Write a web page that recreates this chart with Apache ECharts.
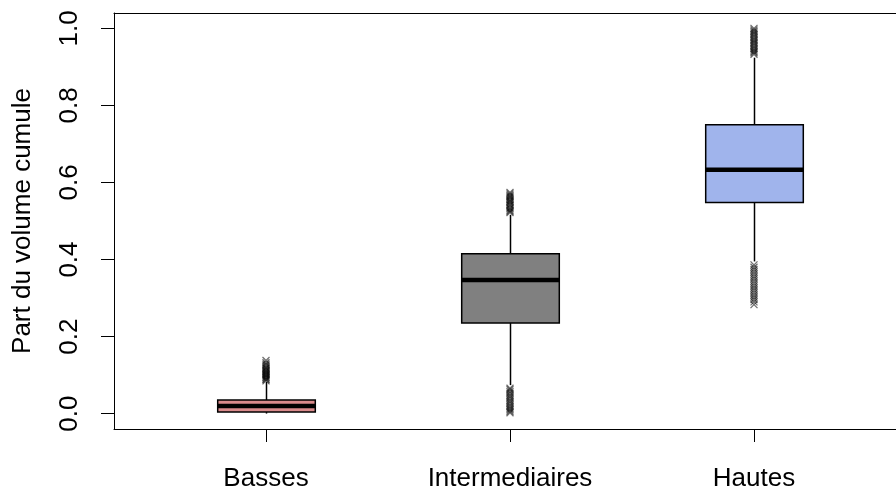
<!DOCTYPE html>
<html>
<head>
<meta charset="utf-8">
<script src="https://cdn.jsdelivr.net/npm/echarts@6/dist/echarts.min.js"></script>
<style>html,body{margin:0;padding:0;background:#fff;}#c{width:896px;height:488px;}</style>
</head>
<body>
<div id="c"></div>
<script>
// ---- data ----
const categories = ['Basses', 'Intermediaires', 'Hautes'];
// [min whisker, Q1, median, Q3, max whisker]
const bassesBox = [0.0, 0.004, 0.0195, 0.035, 0.082];
const interBox = [0.074, 0.235, 0.347, 0.415, 0.516];
const hautesBox = [0.395, 0.548, 0.633, 0.750, 0.924];
const bassesOutliers = [0.085, 0.088, 0.09, 0.093, 0.095, 0.098, 0.10, 0.102, 0.105, 0.107, 0.11, 0.112, 0.115, 0.118, 0.12, 0.124, 0.128, 0.132, 0.138];
const interOutliers = [0.002, 0.006, 0.01, 0.014, 0.018, 0.022, 0.027, 0.031, 0.035, 0.04, 0.044, 0.048, 0.053, 0.057, 0.062, 0.066,
  0.522, 0.525, 0.528, 0.532, 0.535, 0.54, 0.543, 0.547, 0.55, 0.553, 0.556, 0.56, 0.563, 0.566, 0.57, 0.574];
const hautesOutliers = [0.283, 0.29, 0.296, 0.302, 0.308, 0.314, 0.32, 0.326, 0.332, 0.338, 0.344, 0.35, 0.356, 0.362, 0.368, 0.374, 0.38, 0.386,
  0.933, 0.937, 0.94, 0.944, 0.948, 0.952, 0.956, 0.96, 0.964, 0.968, 0.972, 0.976, 0.98, 0.984, 0.988, 0.992, 0.996, 1.0];
const yTicks = [0.0, 0.2, 0.4, 0.6, 0.8, 1.0];
const boxColors = ['#D98A8B', '#808080', '#A0B4EC'];

const boxes = [bassesBox, interBox, hautesBox];
const outliers = [bassesOutliers, interOutliers, hautesOutliers];
const boxData = boxes.map((b, i) => [i].concat(b));
const outlierData = [];
outliers.forEach((arr, i) => arr.forEach(v => outlierData.push([i, v])));

const FONT = 'Liberation Sans, Arial, sans-serif';
const YMIN = -0.04, YMAX = 1.04;

const chart = echarts.init(document.getElementById('c'));
chart.setOption({
  animation: false,
  backgroundColor: '#fff',
  grid: [
    {left: 114, right: 0, top: 13, bottom: 59, containLabel: false, outerBoundsMode: 'none'},
    {left: 144, right: 20, top: 13, bottom: 59, containLabel: false, outerBoundsMode: 'none'}
  ],
  xAxis: [
    {gridIndex: 0, type: 'value', min: 0, max: 1, position: 'bottom',
      axisLine: {show: true, onZero: false, lineStyle: {color: '#000', width: 1}}, axisTick: {show: false}, axisLabel: {show: false}, splitLine: {show: false}},
    {gridIndex: 0, type: 'value', min: 0, max: 1, position: 'top',
      axisLine: {show: true, onZero: false, lineStyle: {color: '#000', width: 1}}, axisTick: {show: false}, axisLabel: {show: false}, splitLine: {show: false}},
    {gridIndex: 1, type: 'category', data: categories, boundaryGap: true, position: 'bottom',
      axisLine: {show: false, onZero: false},
      axisTick: {show: true, alignWithLabel: true, length: 13, lineStyle: {color: '#000', width: 1}},
      axisLabel: {show: true, color: '#000', fontFamily: FONT, fontSize: 26, margin: 37},
      splitLine: {show: false}}
  ],
  yAxis: [
    {gridIndex: 0, type: 'value', min: YMIN, max: YMAX,
      name: 'Part du volume cumule', nameLocation: 'middle', nameGap: 78,
      nameTextStyle: {color: '#000', fontFamily: FONT, fontSize: 26},
      axisLine: {show: true, onZero: false, lineStyle: {color: '#000', width: 1}},
      axisTick: {show: true, length: 13, customValues: yTicks, lineStyle: {color: '#000', width: 1}},
      axisLabel: {show: true, rotate: 90, customValues: yTicks, color: '#000', fontFamily: FONT, fontSize: 26, margin: 31,
        formatter: v => Number(v).toFixed(1)},
      splitLine: {show: false}},
    {gridIndex: 1, type: 'value', min: YMIN, max: YMAX, show: false, splitLine: {show: false}}
  ],
  series: [
    {
      type: 'custom', xAxisIndex: 2, yAxisIndex: 1,
      data: boxData,
      encode: {x: 0, y: [1, 2, 3, 4, 5]},
      renderItem: function (params, api) {
        const i = api.value(0);
        const pMin = api.coord([i, api.value(1)]);
        const pQ1 = api.coord([i, api.value(2)]);
        const pMed = api.coord([i, api.value(3)]);
        const pQ3 = api.coord([i, api.value(4)]);
        const pMax = api.coord([i, api.value(5)]);
        const w = api.size([1, 0])[0] * 0.4;
        const cx = Math.round(pMed[0]) + 0.5;
        return {
          type: 'group',
          children: [
            {type: 'line', shape: {x1: cx, y1: pMin[1], x2: cx, y2: pQ1[1]}, style: {stroke: '#000', lineWidth: 1.5}},
            {type: 'line', shape: {x1: cx, y1: pQ3[1], x2: cx, y2: pMax[1]}, style: {stroke: '#000', lineWidth: 1.5}},
            {type: 'rect', shape: {x: cx - w / 2, y: pQ3[1], width: w, height: pQ1[1] - pQ3[1]},
              style: {fill: boxColors[params.dataIndex], stroke: '#000', lineWidth: 1.5}},
            {type: 'line', shape: {x1: cx - w / 2, y1: pMed[1], x2: cx + w / 2, y2: pMed[1]}, style: {stroke: '#000', lineWidth: 4.5}}
          ]
        };
      },
      z: 2
    },
    {
      type: 'scatter', xAxisIndex: 2, yAxisIndex: 1,
      data: outlierData,
      symbol: 'path://M0,0L10,10M10,0L0,10',
      symbolSize: 7,
      itemStyle: {color: 'none', borderColor: 'rgba(0,0,0,0.7)', borderWidth: 1.3},
      z: 3
    }
  ]
});
</script>
</body>
</html>
